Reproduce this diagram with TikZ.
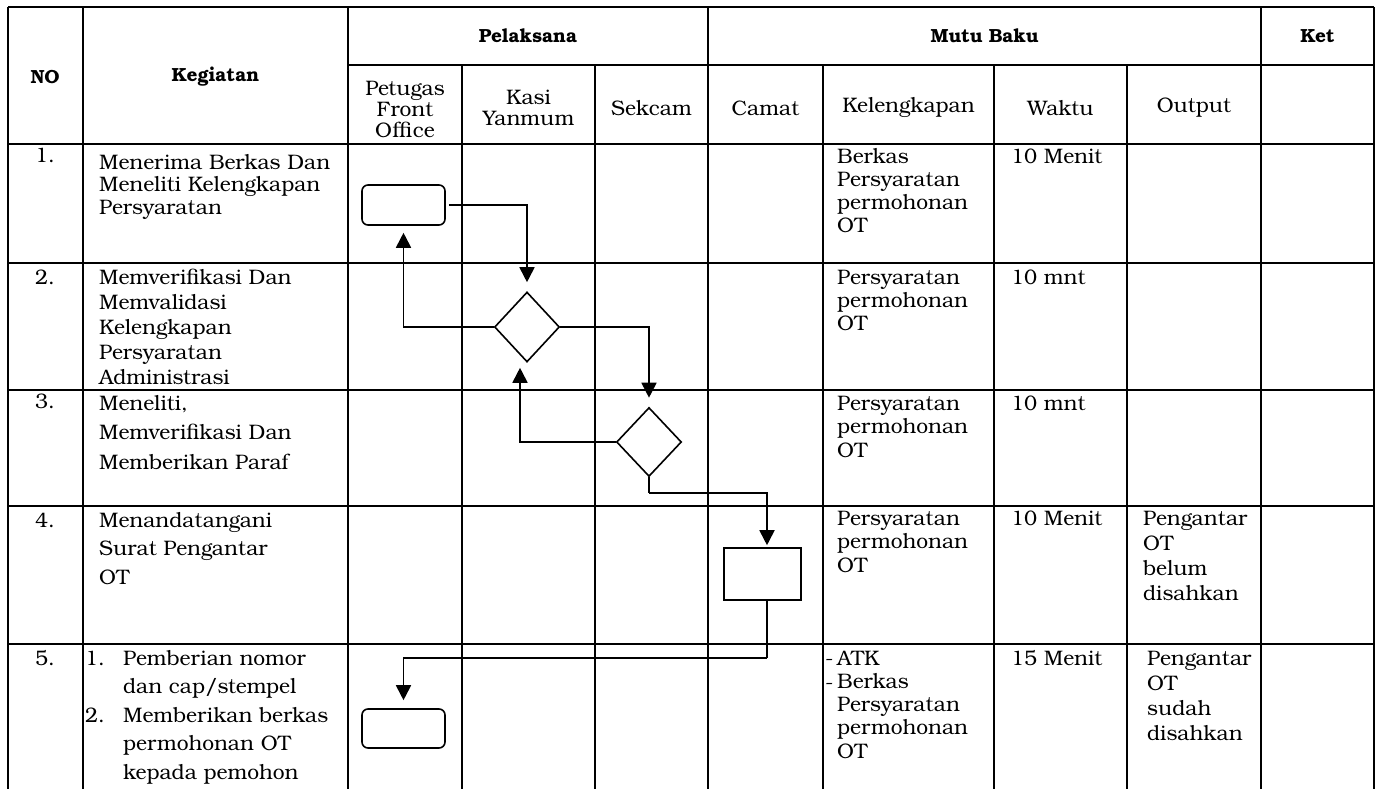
\documentclass[tikz,border=0pt]{standalone}
\usepackage{fontspec}
\setmainfont{TeX Gyre Bonum}
\usetikzlibrary{shapes.geometric,arrows.meta}
\newcommand{\cl}[2]{\parbox[t]{300pt}{\fontsize{21}{#1}\selectfont\raggedright #2}}
\tikzset{
  grid/.style={line width=1.8pt},
  hdr/.style={font=\bfseries\fontsize{19}{22}\selectfont, inner sep=0},
  sub/.style={font=\fontsize{21}{21}\selectfont, align=center, inner sep=0},
  txt/.style={anchor=base west, inner sep=0},
  num/.style={anchor=base, inner sep=0, font=\fontsize{21}{21}\selectfont},
  flow/.style={draw, line width=1.6pt, fill=white, inner sep=0},
  arr/.style={line width=1.8pt, -{Triangle[length=15pt,width=15pt]}},
  ln/.style={line width=1.8pt}
}
\begin{document}
\begin{tikzpicture}[x=1pt,y=-1pt]
\useasboundingbox (0,0) rectangle (1376,789);
% table grid
\draw[grid] (8,7) -- (1374,7);
\draw[grid] (348,65) -- (1374,65);
\foreach \y in {144,263,390,506,644} \draw[grid] (8,\y) -- (1374,\y);
\foreach \x in {8,83,348,708,1261,1374} \draw[grid] (\x,7) -- (\x,789);
\foreach \x in {462,595,823,994,1127} \draw[grid] (\x,65) -- (\x,789);
% headers
\node[hdr] (hno) at (45,77) {NO};
\node[hdr] (hkeg) at (215.5,77) {Kegiatan};
\node[hdr] (hpel) at (528,36) {Pelaksana};
\node[hdr] (hmutu) at (984.5,36) {Mutu Baku};
\node[hdr] (hket) at (1317.5,36) {Ket};
\node[sub] (hpet) at (405,109) {Petugas\\Front\\Office};
\node[sub] (hkasi) at (528.5,108) {Kasi\\Yanmum};
\node[sub] (hsek) at (651.5,108) {Sekcam};
\node[sub] (hcam) at (765.5,108) {Camat};
\node[sub] (hkel) at (908.5,108) {Kelengkapan};
\node[sub] (hwak) at (1060.5,108) {Waktu};
\node[sub] (hout) at (1194,108) {Output};
% row numbers
\node[num] (n1) at (45,162) {1.};
\node[num] (n2) at (45,284) {2.};
\node[num] (n3) at (45,408) {3.};
\node[num] (n4) at (45,527) {4.};
\node[num] (n5) at (45,665) {5.};
% kegiatan
\node[txt] (k1) at (99,169) {\cl{22.5}{Menerima Berkas Dan\\Meneliti Kelengkapan\\Persyaratan}};
\node[txt] (k2) at (99,284) {\cl{25}{Memverifikasi Dan\\Memvalidasi\\Kelengkapan\\Persyaratan\\Administrasi}};
\node[txt] (k3) at (99,410) {\cl{29.5}{Meneliti,\\Memverifikasi Dan\\Memberikan Paraf}};
\node[txt] (k4) at (99,527) {\cl{28.5}{Menandatangani\\Surat Pengantar\\OT}};
\node[txt] (k5a) at (85,665) {\cl{20}{1.}};
\node[txt] (k5b) at (85,722) {\cl{20}{2.}};
\node[txt] (k5) at (123,665) {\cl{28.5}{Pemberian nomor\\dan cap/stempel\\Memberikan berkas\\permohonan OT\\kepada pemohon}};
% kelengkapan
\node[txt] (l1) at (837,164) {\cl{23}{Berkas\\Persyaratan\\permohonan\\OT}};
\node[txt] (l2) at (837,284) {\cl{23}{Persyaratan\\permohonan\\OT}};
\node[txt] (l3) at (837,410) {\cl{23.5}{Persyaratan\\permohonan\\OT}};
\node[txt] (l4) at (837,525) {\cl{23.5}{Persyaratan\\permohonan\\OT}};
\node[txt] (l5a) at (825,665) {\cl{20}{-}};
\node[txt] (l5b) at (825,689) {\cl{20}{-}};
\node[txt] (l5) at (837,665) {\cl{23.3}{ATK\\Berkas\\Persyaratan\\permohonan\\OT}};
% waktu
\node[txt] (w1) at (1011,164) {\cl{20}{10 Menit}};
\node[txt] (w2) at (1011,284) {\cl{20}{10 mnt}};
\node[txt] (w3) at (1011,410) {\cl{20}{10 mnt}};
\node[txt] (w4) at (1011,525) {\cl{20}{10 Menit}};
\node[txt] (w5) at (1011,665) {\cl{20}{15 Menit}};
% output
\node[txt] (o4) at (1143,525) {\cl{25}{Pengantar\\OT\\belum\\disahkan}};
\node[txt] (o5) at (1147,665) {\cl{25}{Pengantar\\OT\\sudah\\disahkan}};
% flow shapes
\node[flow, rounded corners=6pt, minimum width=83pt, minimum height=40pt] (r1) at (403.5,205) {};
\node[flow, diamond, minimum width=65pt, minimum height=70pt] (d1) at (527,327) {};
\node[flow, diamond, minimum width=65pt, minimum height=69pt] (d2) at (649,442) {};
\node[flow, minimum width=77pt, minimum height=52pt] (cam) at (762.5,574) {};
\node[flow, rounded corners=6pt, minimum width=83pt, minimum height=39pt] (r5) at (403.5,728.5) {};
\coordinate (c1) at (649,493);
\coordinate (c2) at (767,658);
% connectors
\draw[arr, shorten <=3pt, shorten >=9pt] (r1.east) -| (d1.north);
\draw[arr, shorten >=7pt] (d1.west) -| (r1.south);
\draw[arr, shorten >=9pt] (d1.east) -| (d2.north);
\draw[arr, shorten >=5pt] (d2.west) -| ([xshift=-7pt]d1.south);
\draw[ln] (d2.south) -- (c1);
\draw[arr, shorten >=2pt] (c1) -| ([xshift=4.5pt]cam.north);
\draw[ln] ([xshift=4.5pt]cam.south) -- (c2);
\draw[arr, shorten >=8pt] (c2) -| (r5.north);
\end{tikzpicture}
\end{document}
